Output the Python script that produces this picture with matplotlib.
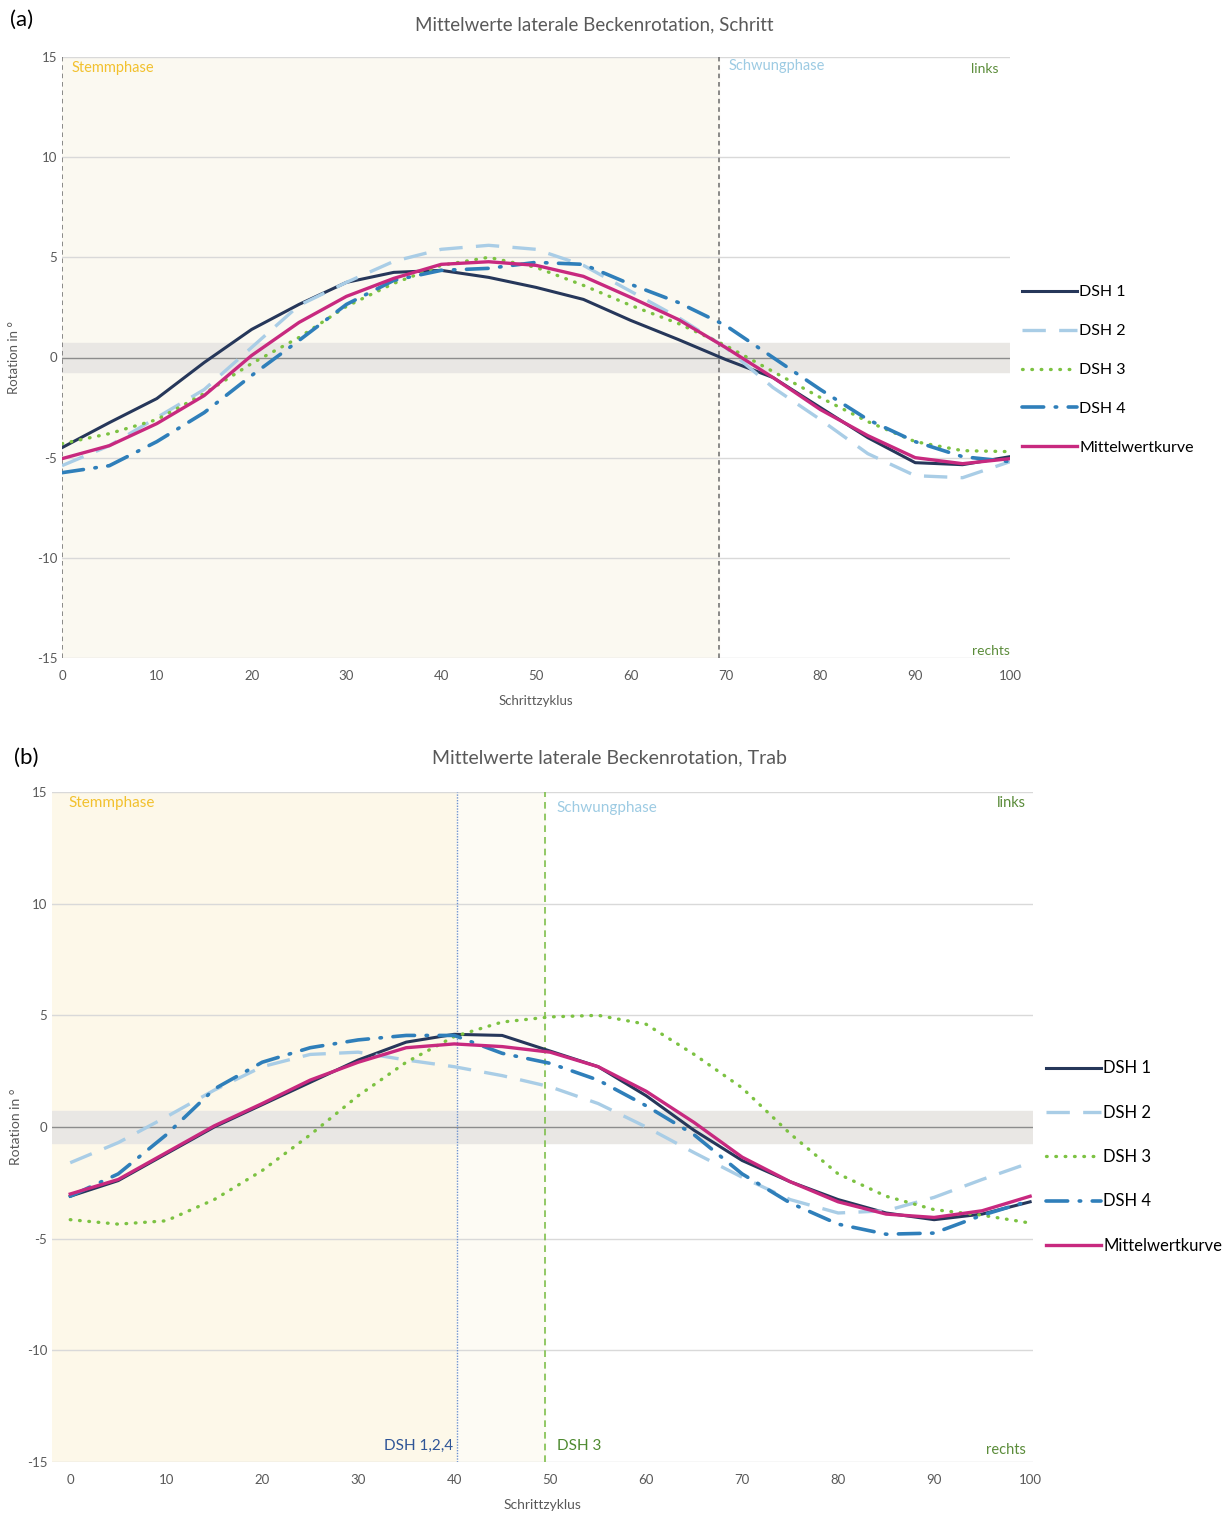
import matplotlib
matplotlib.use("Agg")
import matplotlib.pyplot as plt

plt.rcParams["font.family"] = ["Lato", "DejaVu Sans"]
plt.rcParams["axes.unicode_minus"] = False

# gait cycle positions (percent)
cycle = [0, 5, 10, 15, 20, 25, 30, 35, 40, 45, 50, 55, 60, 65, 70, 75, 80, 85, 90, 95, 100]

# (a) Schritt
walk_dsh1 = [-4.5, -3.25, -2.05, -0.25, 1.4, 2.65, 3.75, 4.25, 4.35, 4.0, 3.5,
             2.9, 1.85, 0.9, -0.1, -1.0, -2.5, -4.0, -5.25, -5.35, -4.95]
walk_dsh2 = [-5.4, -4.4, -3.0, -1.6, 0.5, 2.6, 3.75, 4.8, 5.4, 5.6, 5.4,
             4.6, 3.3, 2.0, 0.5, -1.5, -3.1, -4.8, -5.9, -6.0, -5.2]
walk_dsh3 = [-4.3, -3.8, -3.1, -1.8, -0.3, 1.0, 2.55, 3.7, 4.6, 5.0, 4.5,
             3.6, 2.6, 1.7, 0.6, -0.7, -2.0, -3.2, -4.2, -4.65, -4.7]
walk_dsh4 = [-5.75, -5.4, -4.2, -2.75, -0.9, 0.85, 2.65, 3.85, 4.35, 4.45, 4.75,
             4.65, 3.65, 2.75, 1.6, 0.0, -1.6, -3.1, -4.2, -4.95, -5.2]
walk_mean = [-5.05, -4.4, -3.3, -1.9, 0.1, 1.75, 3.05, 3.95, 4.65, 4.78, 4.6,
             4.05, 3.0, 1.9, 0.5, -1.0, -2.6, -3.9, -5.0, -5.3, -5.05]

# (b) Trab
trot_dsh1 = [-3.1, -2.4, -1.2, 0.0, 1.0, 2.0, 3.0, 3.8, 4.15, 4.1, 3.4,
             2.7, 1.4, -0.15, -1.5, -2.45, -3.25, -3.85, -4.15, -3.9, -3.35]
trot_dsh2 = [-1.6, -0.7, 0.45, 1.65, 2.7, 3.25, 3.35, 3.0, 2.7, 2.3, 1.8,
             1.05, 0.0, -1.15, -2.25, -3.25, -3.85, -3.75, -3.15, -2.35, -1.6]
trot_dsh3 = [-4.15, -4.35, -4.2, -3.25, -1.95, -0.35, 1.4, 2.9, 4.05, 4.7, 4.93,
             5.0, 4.6, 3.25, 1.75, -0.3, -2.1, -3.1, -3.7, -3.95, -4.3]
trot_dsh4 = [-3.1, -2.1, -0.35, 1.7, 2.9, 3.55, 3.9, 4.1, 4.1, 3.3, 2.85,
             2.1, 0.95, -0.35, -2.1, -3.4, -4.35, -4.8, -4.75, -3.95, -3.3]
trot_mean = [-3.0, -2.35, -1.15, 0.05, 1.05, 2.1, 2.9, 3.55, 3.72, 3.6, 3.35,
             2.7, 1.6, 0.2, -1.35, -2.45, -3.35, -3.9, -4.05, -3.75, -3.1]

labels = ["DSH 1", "DSH 2", "DSH 3", "DSH 4", "Mittelwertkurve"]
x_ticks = list(range(0, 101, 10))
y_ticks = list(range(-15, 16, 5))

walk_stance_end = 69.3
trot_stance_end_124 = 40.3
trot_stance_end_3 = 49.5

styles = [
    dict(color="#26375a", lw=2.2, ls="-"),
    dict(color="#a9cde6", lw=2.4, dashes=(7, 4)),
    dict(color="#7cc242", lw=2.4, dashes=(0.2, 2.6), dash_capstyle="round"),
    dict(color="#2f7fba", lw=2.6, dashes=(6, 3.2, 0.4, 3.2), dash_capstyle="round"),
    dict(color="#c8297f", lw=2.4, ls="-"),
]

W, H = 1228, 1517
fig = plt.figure(figsize=(W / 100, H / 100), dpi=100)
fig.patch.set_facecolor("white")

grey = "#595959"


def base_axes(rect, xlim):
    ax = fig.add_axes(rect)
    ax.set_xlim(*xlim)
    ax.set_ylim(-15, 15)
    for s in ax.spines.values():
        s.set_visible(False)
    ax.set_xticks(x_ticks)
    ax.set_yticks(y_ticks)
    ax.tick_params(length=0, labelsize=9.5, labelcolor=grey)
    ax.tick_params(axis="x", pad=9)
    for y in y_ticks:
        if y != 0:
            ax.axhline(y, color="#d9d9d9", lw=1.0, zorder=1)
    ax.axhspan(-0.7, 0.7, color="#e9e7e4", zorder=1)
    ax.axhline(0, color="#8c8c8c", lw=1.0, zorder=2)
    return ax


def draw_lines(ax, series):
    handles = []
    for ys, st, lab in zip(series, styles, labels):
        h, = ax.plot(cycle, ys, label=lab, zorder=4, **st)
        handles.append(h)
    return handles


# ---------- (a) ----------
ax1 = base_axes([62 / W, 1 - 658 / H, 948 / W, 601 / H], (0, 100))
ax1.axvspan(0, walk_stance_end, color="#fbf9f1", zorder=0)
ax1.axvline(0, color="#6b6b6b", lw=1.1, ls=(0, (3, 2.5)), zorder=3)
ax1.axvline(walk_stance_end, color="#6b6b6b", lw=1.1, ls=(0, (3, 2.5)), zorder=3)
h1 = draw_lines(ax1, [walk_dsh1, walk_dsh2, walk_dsh3, walk_dsh4, walk_mean])
ax1.text(1, 14.45, "Stemmphase", color="#f2c12e", fontsize=10.5, va="center")
ax1.text(70.3, 14.55, "Schwungphase", color="#9dcbe3", fontsize=10.5, va="center")
ax1.text(98.8, 14.4, "links", color="#5b8c3a", fontsize=10, va="center", ha="right")
ax1.text(100, -14.65, "rechts", color="#5b8c3a", fontsize=10, va="center", ha="right")
ax1.set_xlabel("Schrittzyklus", fontsize=9.5, color=grey, labelpad=9)
fig.text(14 / W, 1 - 357 / H, "Rotation in °", rotation=90, fontsize=9.5,
         color=grey, ha="center", va="center")
fig.text(594 / W, 1 - 25 / H, "Mittelwerte laterale Beckenrotation, Schritt",
         fontsize=13.5, color=grey, ha="center", va="center")
fig.text(10 / W, 1 - 20 / H, "(a)", fontsize=16, color="black", va="center")
ax1.legend(handles=h1, loc="center left", bbox_to_anchor=(1016 / W, 1 - 370 / H),
           bbox_transform=fig.transFigure, frameon=False, fontsize=11.5,
           handlelength=3.4, handletextpad=0.15, labelspacing=1.55,
           borderaxespad=0)

# ---------- (b) ----------
ax2 = base_axes([52 / W, 1 - 1462 / H, 981 / W, 670 / H], (-1.9, 100.3))
ax2.axvspan(-1.9, trot_stance_end_124, color="#fdf8e9", zorder=0)
ax2.axvspan(trot_stance_end_124, trot_stance_end_3, color="#fdfbf4", zorder=0)
ax2.axvline(trot_stance_end_124, color="#6f93cf", lw=1.0, ls=(0, (1, 1)), zorder=3)
ax2.axvline(trot_stance_end_3, color="#7fbf4d", lw=1.2, ls=(0, (4, 3)), zorder=3)
h2 = draw_lines(ax2, [trot_dsh1, trot_dsh2, trot_dsh3, trot_dsh4, trot_mean])
ax2.text(-0.2, 14.5, "Stemmphase", color="#f2c12e", fontsize=11, va="center")
ax2.text(50.7, 14.3, "Schwungphase", color="#9dcbe3", fontsize=11, va="center")
ax2.text(99.6, 14.5, "links", color="#5b8c3a", fontsize=10.5, va="center", ha="right")
ax2.text(99.6, -14.45, "rechts", color="#5b8c3a", fontsize=10.5, va="center", ha="right")
ax2.text(39.9, -14.3, "DSH 1,2,4", color="#2f5597", fontsize=11, va="center", ha="right")
ax2.text(50.7, -14.3, "DSH 3", color="#4e8a30", fontsize=11, va="center", ha="left")
ax2.set_xlabel("Schrittzyklus", fontsize=10, color=grey, labelpad=9)
fig.text(16 / W, 1 - 1127 / H, "Rotation in °", rotation=90, fontsize=10,
         color=grey, ha="center", va="center")
fig.text(609 / W, 1 - 758 / H, "Mittelwerte laterale Beckenrotation, Trab",
         fontsize=14, color=grey, ha="center", va="center")
fig.text(14 / W, 1 - 758 / H, "(b)", fontsize=16, color="black", va="center")
ax2.legend(handles=h2, loc="center left", bbox_to_anchor=(1039 / W, 1 - 1157 / H),
           bbox_transform=fig.transFigure, frameon=False, fontsize=12,
           handlelength=3.3, handletextpad=0.15, labelspacing=1.7,
           borderaxespad=0)

fig.savefig("out.png", dpi=100)
